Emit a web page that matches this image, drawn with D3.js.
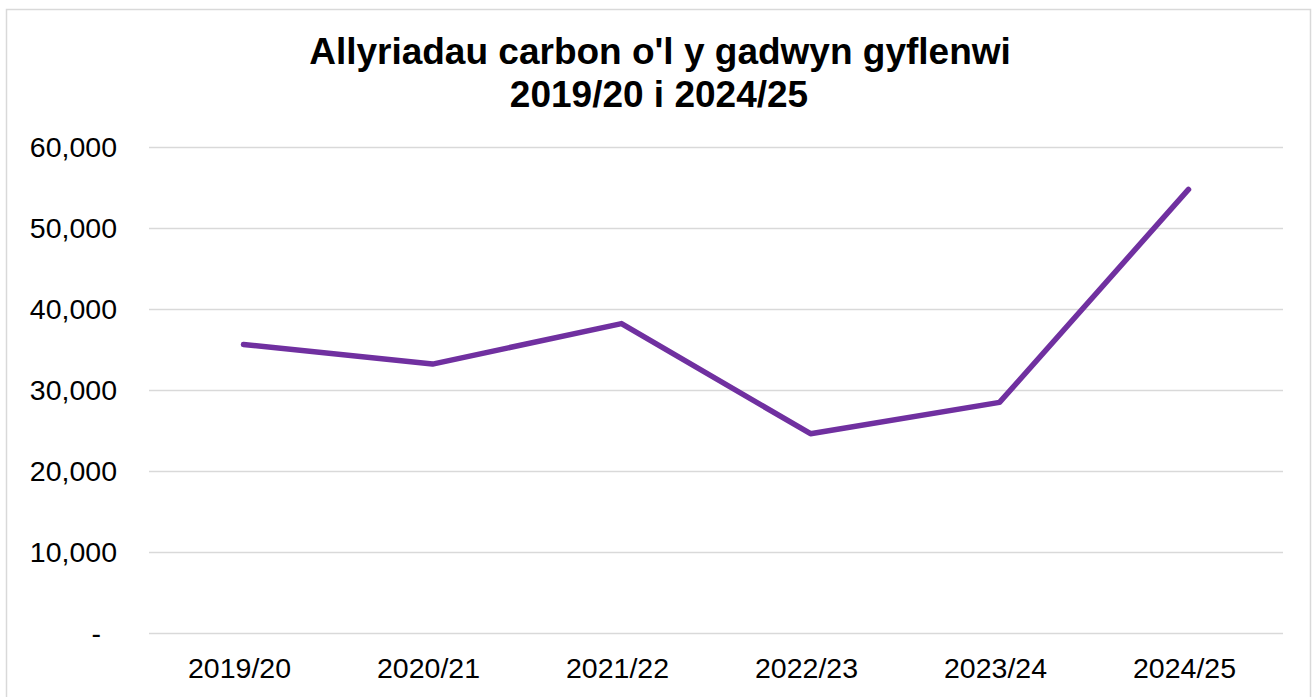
<!DOCTYPE html>
<meta charset="utf-8">
<style>

  body {
    margin: 0;
    background: #fff;
  }

  text {
    font-family: "Liberation Sans", Arial, sans-serif;
    fill: #000;
  }

  .title {
    font-size: 37px;
    font-weight: bold;
    text-anchor: middle;
  }

  .axis text {
    font-size: 28.5px;
  }

  .axis .domain {
    display: none;
  }

</style>
<svg width="1316" height="697"></svg>
<script src="https://d3js.org/d3.v7.min.js"></script>
<script>

var years = ["2019/20", "2020/21", "2021/22", "2022/23", "2023/24", "2024/25"];
var emissions = [35620, 33200, 38200, 24600, 28470, 54760];
var yTicks = [0, 10000, 20000, 30000, 40000, 50000, 60000];
var titleLines = ["Allyriadau carbon o'l y gadwyn gyflenwi", "2019/20 i 2024/25"];

var data = years.map(function(y, i) { return {year: y, value: emissions[i]}; });

var svg = d3.select("svg"),
    margin = {top: 147, right: 33, bottom: 64, left: 149},
    width = +svg.attr("width"),
    height = +svg.attr("height");

// chart border
svg.append("rect")
    .attr("x", 6.5)
    .attr("y", 9.5)
    .attr("width", 1304)
    .attr("height", 700)
    .attr("fill", "none")
    .attr("stroke", "#d9d9d9")
    .attr("stroke-width", 1.5);

svg.append("text")
    .attr("class", "title")
    .attr("x", 660)
    .attr("y", 64)
    .text(titleLines[0]);

svg.append("text")
    .attr("class", "title")
    .attr("x", 659)
    .attr("y", 107)
    .text(titleLines[1]);

var x = d3.scaleBand()
    .domain(years)
    .range([margin.left, width - margin.right]);

var y = d3.scaleLinear()
    .domain([0, 60000])
    .range([height - margin.bottom, margin.top]);

var fmt = d3.format(",");

var yAxis = svg.append("g")
    .attr("class", "axis y")
    .attr("transform", "translate(" + margin.left + ",0)")
    .call(d3.axisLeft(y)
      .tickValues(yTicks)
      .tickSize(-(width - margin.left - margin.right))
      .tickPadding(32)
      .tickFormat(function(d) { return d === 0 ? "-" : fmt(d); }));

yAxis.selectAll(".tick line")
    .attr("stroke", "#d9d9d9")
    .attr("stroke-width", 1.5);

yAxis.selectAll(".tick text")
    .filter(function(d) { return d === 0; })
    .attr("dx", -16);

var xAxis = svg.append("g")
    .attr("class", "axis x")
    .attr("transform", "translate(0," + (height - margin.bottom) + ")")
    .call(d3.axisBottom(x).tickSize(0).tickPadding(25));

xAxis.selectAll(".tick text")
    .attr("dx", -4);

var line = d3.line()
    .x(function(d) { return x(d.year) + x.bandwidth() / 2; })
    .y(function(d) { return y(d.value); });

svg.append("path")
    .datum(data)
    .attr("fill", "none")
    .attr("stroke", "#7030a0")
    .attr("stroke-width", 5.5)
    .attr("stroke-linejoin", "round")
    .attr("stroke-linecap", "round")
    .attr("d", line);

</script>
